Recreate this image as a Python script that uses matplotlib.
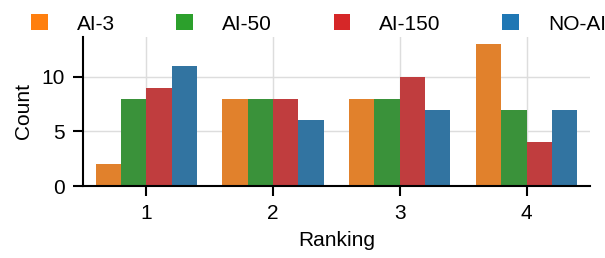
import matplotlib
matplotlib.use("Agg")
import matplotlib.pyplot as plt
import numpy as np
import seaborn as sns
from matplotlib.patches import Patch

rankings = ["1", "2", "3", "4"]
series = ["AI-3", "AI-50", "AI-150", "NO-AI"]
ai3 = [2, 8, 8, 13]
ai50 = [8, 8, 8, 7]
ai150 = [9, 8, 10, 4]
noai = [11, 6, 7, 7]
values = [ai3, ai50, ai150, noai]
base_colors = ["#ff7f0e", "#2ca02c", "#d62728", "#1f77b4"]

plt.rcParams['font.family'] = ['Liberation Sans', 'DejaVu Sans']
plt.rcParams['font.size'] = 10

fig = plt.figure(figsize=(605/150, 258/150), dpi=150)
ax = fig.add_axes([0.137, 0.279, 0.838, 0.578])

x = np.arange(len(rankings))
w = 0.2
for i, (name, vals, c) in enumerate(zip(series, values, base_colors)):
    ax.bar(x - 0.3 + i * w, vals, width=w, color=sns.desaturate(c, 0.75),
           zorder=2, linewidth=0)

ax.set_xlim(-0.5, 3.5)
ax.set_ylim(0, 13.65)
ax.set_xticks(x)
ax.set_xticklabels(rankings)
ax.set_yticks([0, 5, 10])
ax.grid(True, color="#dddddd", linewidth=0.7, zorder=0)
ax.set_axisbelow(True)
for s in ["top", "right"]:
    ax.spines[s].set_visible(False)
for s in ["left", "bottom"]:
    ax.spines[s].set_linewidth(1.0)
ax.tick_params(axis="both", length=5, width=1.0, labelsize=10)
ax.set_xlabel("Ranking", fontsize=10)
ax.set_ylabel("Count", fontsize=10)

handles = [Patch(facecolor=c, edgecolor="none") for c in base_colors]
fig.legend(handles, series, loc="center left", bbox_to_anchor=(31/605, 1 - 24/258),
           ncol=4, frameon=False, borderpad=0, borderaxespad=0,
           handlelength=0.8, handleheight=0.8, handletextpad=1.4,
           columnspacing=2.95, fontsize=10)

fig.savefig("out.png", dpi=150)
